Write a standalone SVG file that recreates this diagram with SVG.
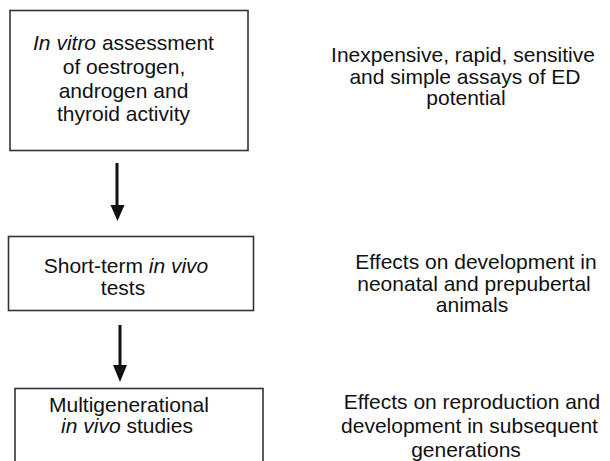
<svg xmlns="http://www.w3.org/2000/svg" width="610" height="461" viewBox="0 0 610 461">
  <style>
    .box { fill: #ffffff; stroke: #333333; stroke-width: 1.6; }
    .t { font-family: "Liberation Sans", Arial, sans-serif; font-size: 21px; fill: #111111; text-anchor: middle; }
    .i { font-style: italic; }
    .conn { stroke: #111111; stroke-width: 3; fill: none; }
    .head { fill: #111111; }
  </style>
  <rect width="610" height="461" fill="#ffffff"/>

  <g id="node-invitro">
    <rect class="box" x="10" y="10.5" width="238" height="140"/>
    <text class="t" x="123.5" y="50"><tspan class="i">In vitro</tspan> assessment</text>
    <text class="t" x="124" y="74">of oestrogen,</text>
    <text class="t" x="123.5" y="97.5">androgen and</text>
    <text class="t" x="123.5" y="121">thyroid activity</text>
  </g>

  <g id="node-shortterm">
    <rect class="box" x="8.5" y="236.5" width="245" height="74"/>
    <text class="t" x="126" y="273">Short-term <tspan class="i">in vivo</tspan></text>
    <text class="t" x="123" y="295">tests</text>
  </g>

  <g id="node-multigen">
    <rect class="box" x="15" y="388.5" width="248" height="90"/>
    <text class="t" x="129" y="412">Multigenerational</text>
    <text class="t" x="127" y="433"><tspan class="i">in vivo</tspan> studies</text>
  </g>

  <g id="note-invitro">
    <text class="t" x="463" y="62">Inexpensive, rapid, sensitive</text>
    <text class="t" x="465" y="83.5">and simple assays of ED</text>
    <text class="t" x="466" y="105">potential</text>
  </g>

  <g id="note-shortterm">
    <text class="t" x="476" y="269">Effects on development in</text>
    <text class="t" x="474" y="290.5">neonatal and prepubertal</text>
    <text class="t" x="472" y="312">animals</text>
  </g>

  <g id="note-multigen">
    <text class="t" x="472" y="409">Effects on reproduction and</text>
    <text class="t" x="469.5" y="432.5">development in subsequent</text>
    <text class="t" x="466" y="457">generations</text>
  </g>

  <g id="connectors">
    <line class="conn" x1="117" y1="163" x2="117" y2="206"/>
    <polygon class="head" points="110.5,205 124.5,205 117.5,221"/>
    <line class="conn" x1="120" y1="325" x2="120" y2="366"/>
    <polygon class="head" points="113,365 127,365 120,382"/>
  </g>
</svg>
